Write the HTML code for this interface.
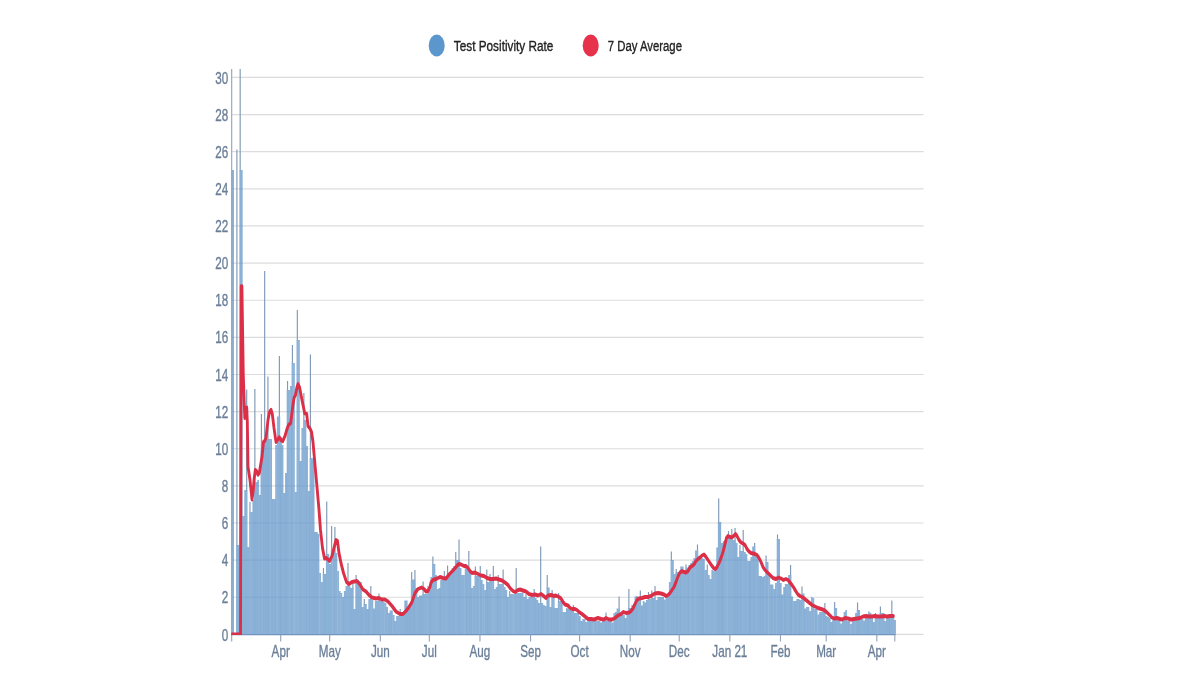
<!DOCTYPE html>
<html lang="en"><head><meta charset="utf-8"><title>Test Positivity Rate</title>
<style>
html,body{margin:0;padding:0;background:#fff;}
body{width:1200px;height:675px;overflow:hidden;font-family:"Liberation Sans",sans-serif;}
svg{display:block;}
text{font-family:"Liberation Sans",sans-serif;}
.ax{fill:#6b7f98;font-size:16px;stroke:#6b7f98;stroke-width:0.35px;}
.lg{fill:#222;font-size:15.4px;stroke:#222;stroke-width:0.35px;}
</style></head><body>
<svg width="1200" height="675" viewBox="0 0 1200 675">
<rect width="1200" height="675" fill="#ffffff"/>

<g stroke="#dbdcde" stroke-width="1.2">
<line x1="231.7" y1="634.40" x2="923.5" y2="634.40"/>
<line x1="231.7" y1="597.27" x2="923.5" y2="597.27"/>
<line x1="231.7" y1="560.14" x2="923.5" y2="560.14"/>
<line x1="231.7" y1="523.01" x2="923.5" y2="523.01"/>
<line x1="231.7" y1="485.88" x2="923.5" y2="485.88"/>
<line x1="231.7" y1="448.75" x2="923.5" y2="448.75"/>
<line x1="231.7" y1="411.62" x2="923.5" y2="411.62"/>
<line x1="231.7" y1="374.49" x2="923.5" y2="374.49"/>
<line x1="231.7" y1="337.36" x2="923.5" y2="337.36"/>
<line x1="231.7" y1="300.23" x2="923.5" y2="300.23"/>
<line x1="231.7" y1="263.10" x2="923.5" y2="263.10"/>
<line x1="231.7" y1="225.97" x2="923.5" y2="225.97"/>
<line x1="231.7" y1="188.84" x2="923.5" y2="188.84"/>
<line x1="231.7" y1="151.71" x2="923.5" y2="151.71"/>
<line x1="231.7" y1="114.58" x2="923.5" y2="114.58"/>
<line x1="231.7" y1="77.45" x2="923.5" y2="77.45"/>
</g>
<defs><clipPath id="bc"><path d="M231.40,634.4V170.0H232.82V170.0H234.00V634.4Z M236.08,634.4V545.0H237.72V545.0H239.35V170.0H240.98V170.0H242.62V516.0H244.25V490.0H245.88V490.0H247.52V547.0H249.15V512.0H250.78V512.0H252.42V500.0H254.05V482.0H255.68V482.0H257.32V480.0H258.95V495.0H260.58V450.0H262.22V450.0H263.85V440.0H265.48V440.0H267.11V439.0H268.75V439.0H270.38V439.0H272.01V499.0H273.65V499.0H275.28V445.0H276.91V416.5H278.55V416.5H280.18V437.0H281.81V445.0H283.45V493.0H285.08V473.0H286.71V390.0H288.35V390.0H289.98V386.0H291.61V363.0H293.25V363.0H294.88V492.0H296.51V340.0H298.15V340.0H299.78V461.0H301.41V428.0H303.05V420.0H304.68V420.0H306.31V446.0H307.95V491.0H309.58V458.0H311.21V458.0H312.85V460.0H314.48V532.0H316.11V532.0H317.75V534.0H319.38V573.0H321.01V582.0H322.65V574.0H324.28V574.0H325.91V554.0H327.55V554.0H329.18V564.0H330.81V550.0H332.44V550.0H334.08V550.0H335.71V553.0H337.34V571.0H338.98V591.0H340.61V593.0H342.24V597.0H343.88V591.0H345.51V586.0H347.14V586.0H348.78V586.0H350.41V588.0H352.04V588.0H353.68V609.0H355.31V580.0H356.94V580.0H358.58V581.0H360.21V582.0H361.84V607.0H363.48V604.0H365.11V604.0H366.74V609.0H368.38V599.0H370.01V599.0H371.64V600.0H373.28V608.5H374.91V601.0H376.54V601.0H378.18V600.0H379.81V600.0H381.44V601.0H383.08V602.0H384.71V603.0H386.34V607.0H387.98V613.0H389.61V610.5H391.24V610.5H392.88V615.0H394.51V621.0H396.14V616.0H397.77V616.0H399.41V614.0H401.04V614.0H402.67V614.0H404.31V600.5H405.94V600.5H407.57V607.0H409.21V606.0H410.84V579.5H412.47V579.5H414.11V579.5H415.74V588.0H417.37V597.0H419.01V595.5H420.64V595.5H422.27V594.0H423.91V594.0H425.54V594.0H427.17V590.0H428.81V590.0H430.44V577.0H432.07V564.0H433.71V564.0H435.34V575.0H436.97V589.0H438.61V588.0H440.24V580.0H441.87V580.0H443.51V580.0H445.14V580.0H446.77V574.0H448.41V574.0H450.04V572.0H451.67V568.0H453.31V566.0H454.94V560.0H456.57V560.0H458.21V560.0H459.84V568.0H461.47V575.0H463.10V575.0H464.74V568.0H466.37V568.0H468.00V568.0H469.64V570.0H471.27V588.0H472.90V586.0H474.54V576.0H476.17V576.0H477.80V576.0H479.44V576.0H481.07V580.0H482.70V584.0H484.34V590.0H485.97V582.0H487.60V582.0H489.24V580.0H490.87V580.0H492.50V580.0H494.14V589.0H495.77V587.0H497.40V584.0H499.04V584.0H500.67V584.0H502.30V584.0H503.94V587.0H505.57V590.0H507.20V597.0H508.84V594.0H510.47V594.0H512.10V594.0H513.74V594.0H515.37V593.0H517.00V593.0H518.64V593.0H520.27V593.0H521.90V592.5H523.54V597.0H525.17V597.0H526.80V599.0H528.43V597.0H530.07V597.0H531.70V597.0H533.33V597.0H534.97V598.0H536.60V600.0H538.23V603.0H539.87V603.0H541.50V603.0H543.13V605.0H544.77V606.0H546.40V587.5H548.03V587.5H549.67V607.0H551.30V598.0H552.93V598.0H554.57V608.0H556.20V608.0H557.83V601.0H559.47V601.0H561.10V601.0H562.73V612.0H564.37V612.0H566.00V608.0H567.63V609.0H569.27V610.0H570.90V611.0H572.53V611.0H574.17V613.0H575.80V613.0H577.43V613.0H579.07V616.0H580.70V621.0H582.33V619.0H583.97V619.0H585.60V622.0H587.23V621.0H588.87V621.0H590.50V621.0H592.13V621.0H593.76V621.0H595.40V621.0H597.03V621.0H598.66V621.0H600.30V622.5H601.93V621.0H603.56V621.0H605.20V621.0H606.83V621.0H608.46V621.0H610.10V621.0H611.73V622.5H613.36V613.0H615.00V612.0H616.63V608.5H618.26V608.5H619.90V615.0H621.53V615.0H623.16V615.0H624.80V618.0H626.43V614.0H628.06V608.0H629.70V608.0H631.33V605.0H632.96V604.0H634.60V596.5H636.23V596.0H637.86V598.0H639.50V598.0H641.13V605.5H642.76V601.0H644.40V602.5H646.03V600.0H647.66V599.0H649.30V599.0H650.93V598.0H652.56V598.0H654.20V598.0H655.83V600.0H657.46V597.0H659.09V597.0H660.73V597.0H662.36V597.0H663.99V599.5H665.63V597.0H667.26V596.0H668.89V582.0H670.53V560.0H672.16V560.0H673.79V574.0H675.43V572.0H677.06V572.0H678.69V572.0H680.33V566.5H681.96V566.5H683.59V570.0H685.23V567.5H686.86V567.5H688.49V565.0H690.13V563.0H691.76V561.0H693.39V558.0H695.03V550.5H696.66V550.5H698.29V556.0H699.93V557.0H701.56V558.0H703.19V559.0H704.83V570.0H706.46V570.0H708.09V575.0H709.73V579.0H711.36V570.0H712.99V571.0H714.63V571.0H716.26V547.5H717.89V522.0H719.53V522.0H721.16V543.0H722.79V541.0H724.42V540.0H726.06V540.0H727.69V538.0H729.32V538.0H730.96V538.0H732.59V540.0H734.22V540.0H735.86V543.0H737.49V557.0H739.12V551.0H740.76V551.0H742.39V551.0H744.02V552.0H745.66V554.0H747.29V561.0H748.92V561.0H750.56V557.0H752.19V546.5H753.82V546.5H755.46V556.0H757.09V558.0H758.72V576.0H760.36V576.0H761.99V577.0H763.62V576.0H765.26V562.0H766.89V562.0H768.52V575.0H770.16V584.5H771.79V584.5H773.42V589.0H775.06V583.0H776.69V539.0H778.32V539.0H779.96V583.0H781.59V594.5H783.22V587.0H784.86V584.0H786.49V584.0H788.12V575.0H789.75V575.0H791.39V596.5H793.02V601.0H794.65V601.0H796.29V599.0H797.92V599.0H799.55V600.0H801.19V593.5H802.82V593.5H804.45V608.5H806.09V607.0H807.72V607.0H809.35V611.0H810.99V597.0H812.62V598.0H814.25V609.0H815.89V609.0H817.52V614.5H819.15V612.0H820.79V612.0H822.42V612.0H824.05V612.0H825.69V616.0H827.32V617.0H828.95V618.0H830.59V622.0H832.22V620.0H833.85V608.0H835.49V608.0H837.12V620.0H838.75V620.0H840.39V623.5H842.02V620.0H843.65V612.0H845.29V610.0H846.92V621.0H848.55V621.0H850.19V624.0H851.82V621.0H853.45V621.0H855.08V613.0H856.72V610.0H858.35V610.0H859.98V619.0H861.62V619.0H863.25V620.5H864.88V618.0H866.52V618.0H868.15V611.5H869.78V613.0H871.42V618.0H873.05V622.0H874.68V618.0H876.32V618.0H877.95V618.0H879.58V613.0H881.22V613.0H882.85V613.0H884.48V621.0H886.12V618.0H887.75V618.0H889.38V618.0H891.02V615.0H892.65V615.0H894.28V620.0H895.92V634.4Z"/></clipPath></defs>
<path fill="#8cb2d7" d="M231.40,634.4V170.0H232.82V170.0H234.00V634.4Z M236.08,634.4V545.0H237.72V545.0H239.35V170.0H240.98V170.0H242.62V516.0H244.25V490.0H245.88V490.0H247.52V547.0H249.15V512.0H250.78V512.0H252.42V500.0H254.05V482.0H255.68V482.0H257.32V480.0H258.95V495.0H260.58V450.0H262.22V450.0H263.85V440.0H265.48V440.0H267.11V439.0H268.75V439.0H270.38V439.0H272.01V499.0H273.65V499.0H275.28V445.0H276.91V416.5H278.55V416.5H280.18V437.0H281.81V445.0H283.45V493.0H285.08V473.0H286.71V390.0H288.35V390.0H289.98V386.0H291.61V363.0H293.25V363.0H294.88V492.0H296.51V340.0H298.15V340.0H299.78V461.0H301.41V428.0H303.05V420.0H304.68V420.0H306.31V446.0H307.95V491.0H309.58V458.0H311.21V458.0H312.85V460.0H314.48V532.0H316.11V532.0H317.75V534.0H319.38V573.0H321.01V582.0H322.65V574.0H324.28V574.0H325.91V554.0H327.55V554.0H329.18V564.0H330.81V550.0H332.44V550.0H334.08V550.0H335.71V553.0H337.34V571.0H338.98V591.0H340.61V593.0H342.24V597.0H343.88V591.0H345.51V586.0H347.14V586.0H348.78V586.0H350.41V588.0H352.04V588.0H353.68V609.0H355.31V580.0H356.94V580.0H358.58V581.0H360.21V582.0H361.84V607.0H363.48V604.0H365.11V604.0H366.74V609.0H368.38V599.0H370.01V599.0H371.64V600.0H373.28V608.5H374.91V601.0H376.54V601.0H378.18V600.0H379.81V600.0H381.44V601.0H383.08V602.0H384.71V603.0H386.34V607.0H387.98V613.0H389.61V610.5H391.24V610.5H392.88V615.0H394.51V621.0H396.14V616.0H397.77V616.0H399.41V614.0H401.04V614.0H402.67V614.0H404.31V600.5H405.94V600.5H407.57V607.0H409.21V606.0H410.84V579.5H412.47V579.5H414.11V579.5H415.74V588.0H417.37V597.0H419.01V595.5H420.64V595.5H422.27V594.0H423.91V594.0H425.54V594.0H427.17V590.0H428.81V590.0H430.44V577.0H432.07V564.0H433.71V564.0H435.34V575.0H436.97V589.0H438.61V588.0H440.24V580.0H441.87V580.0H443.51V580.0H445.14V580.0H446.77V574.0H448.41V574.0H450.04V572.0H451.67V568.0H453.31V566.0H454.94V560.0H456.57V560.0H458.21V560.0H459.84V568.0H461.47V575.0H463.10V575.0H464.74V568.0H466.37V568.0H468.00V568.0H469.64V570.0H471.27V588.0H472.90V586.0H474.54V576.0H476.17V576.0H477.80V576.0H479.44V576.0H481.07V580.0H482.70V584.0H484.34V590.0H485.97V582.0H487.60V582.0H489.24V580.0H490.87V580.0H492.50V580.0H494.14V589.0H495.77V587.0H497.40V584.0H499.04V584.0H500.67V584.0H502.30V584.0H503.94V587.0H505.57V590.0H507.20V597.0H508.84V594.0H510.47V594.0H512.10V594.0H513.74V594.0H515.37V593.0H517.00V593.0H518.64V593.0H520.27V593.0H521.90V592.5H523.54V597.0H525.17V597.0H526.80V599.0H528.43V597.0H530.07V597.0H531.70V597.0H533.33V597.0H534.97V598.0H536.60V600.0H538.23V603.0H539.87V603.0H541.50V603.0H543.13V605.0H544.77V606.0H546.40V587.5H548.03V587.5H549.67V607.0H551.30V598.0H552.93V598.0H554.57V608.0H556.20V608.0H557.83V601.0H559.47V601.0H561.10V601.0H562.73V612.0H564.37V612.0H566.00V608.0H567.63V609.0H569.27V610.0H570.90V611.0H572.53V611.0H574.17V613.0H575.80V613.0H577.43V613.0H579.07V616.0H580.70V621.0H582.33V619.0H583.97V619.0H585.60V622.0H587.23V621.0H588.87V621.0H590.50V621.0H592.13V621.0H593.76V621.0H595.40V621.0H597.03V621.0H598.66V621.0H600.30V622.5H601.93V621.0H603.56V621.0H605.20V621.0H606.83V621.0H608.46V621.0H610.10V621.0H611.73V622.5H613.36V613.0H615.00V612.0H616.63V608.5H618.26V608.5H619.90V615.0H621.53V615.0H623.16V615.0H624.80V618.0H626.43V614.0H628.06V608.0H629.70V608.0H631.33V605.0H632.96V604.0H634.60V596.5H636.23V596.0H637.86V598.0H639.50V598.0H641.13V605.5H642.76V601.0H644.40V602.5H646.03V600.0H647.66V599.0H649.30V599.0H650.93V598.0H652.56V598.0H654.20V598.0H655.83V600.0H657.46V597.0H659.09V597.0H660.73V597.0H662.36V597.0H663.99V599.5H665.63V597.0H667.26V596.0H668.89V582.0H670.53V560.0H672.16V560.0H673.79V574.0H675.43V572.0H677.06V572.0H678.69V572.0H680.33V566.5H681.96V566.5H683.59V570.0H685.23V567.5H686.86V567.5H688.49V565.0H690.13V563.0H691.76V561.0H693.39V558.0H695.03V550.5H696.66V550.5H698.29V556.0H699.93V557.0H701.56V558.0H703.19V559.0H704.83V570.0H706.46V570.0H708.09V575.0H709.73V579.0H711.36V570.0H712.99V571.0H714.63V571.0H716.26V547.5H717.89V522.0H719.53V522.0H721.16V543.0H722.79V541.0H724.42V540.0H726.06V540.0H727.69V538.0H729.32V538.0H730.96V538.0H732.59V540.0H734.22V540.0H735.86V543.0H737.49V557.0H739.12V551.0H740.76V551.0H742.39V551.0H744.02V552.0H745.66V554.0H747.29V561.0H748.92V561.0H750.56V557.0H752.19V546.5H753.82V546.5H755.46V556.0H757.09V558.0H758.72V576.0H760.36V576.0H761.99V577.0H763.62V576.0H765.26V562.0H766.89V562.0H768.52V575.0H770.16V584.5H771.79V584.5H773.42V589.0H775.06V583.0H776.69V539.0H778.32V539.0H779.96V583.0H781.59V594.5H783.22V587.0H784.86V584.0H786.49V584.0H788.12V575.0H789.75V575.0H791.39V596.5H793.02V601.0H794.65V601.0H796.29V599.0H797.92V599.0H799.55V600.0H801.19V593.5H802.82V593.5H804.45V608.5H806.09V607.0H807.72V607.0H809.35V611.0H810.99V597.0H812.62V598.0H814.25V609.0H815.89V609.0H817.52V614.5H819.15V612.0H820.79V612.0H822.42V612.0H824.05V612.0H825.69V616.0H827.32V617.0H828.95V618.0H830.59V622.0H832.22V620.0H833.85V608.0H835.49V608.0H837.12V620.0H838.75V620.0H840.39V623.5H842.02V620.0H843.65V612.0H845.29V610.0H846.92V621.0H848.55V621.0H850.19V624.0H851.82V621.0H853.45V621.0H855.08V613.0H856.72V610.0H858.35V610.0H859.98V619.0H861.62V619.0H863.25V620.5H864.88V618.0H866.52V618.0H868.15V611.5H869.78V613.0H871.42V618.0H873.05V622.0H874.68V618.0H876.32V618.0H877.95V618.0H879.58V613.0H881.22V613.0H882.85V613.0H884.48V621.0H886.12V618.0H887.75V618.0H889.38V618.0H891.02V615.0H892.65V615.0H894.28V620.0H895.92V634.4Z"/>
<g clip-path="url(#bc)"><rect x="232.42" y="60" width="0.80" height="575" fill="#5f8fc4" opacity="0.07"/><rect x="235.68" y="60" width="0.80" height="575" fill="#5f8fc4" opacity="0.11"/><rect x="237.32" y="60" width="0.80" height="575" fill="#5f8fc4" opacity="0.06"/><rect x="238.95" y="60" width="0.80" height="575" fill="#ffffff" opacity="0.04"/><rect x="240.58" y="60" width="0.80" height="575" fill="#5f8fc4" opacity="0.06"/><rect x="242.22" y="60" width="0.80" height="575" fill="#5f8fc4" opacity="0.10"/><rect x="245.48" y="60" width="0.80" height="575" fill="#5f8fc4" opacity="0.08"/><rect x="250.38" y="60" width="0.80" height="575" fill="#ffffff" opacity="0.07"/><rect x="253.65" y="60" width="0.80" height="575" fill="#5f8fc4" opacity="0.15"/><rect x="255.28" y="60" width="0.80" height="575" fill="#5f8fc4" opacity="0.07"/><rect x="256.92" y="60" width="0.80" height="575" fill="#5f8fc4" opacity="0.09"/><rect x="260.18" y="60" width="0.80" height="575" fill="#5f8fc4" opacity="0.12"/><rect x="263.45" y="60" width="0.80" height="575" fill="#5f8fc4" opacity="0.12"/><rect x="265.08" y="60" width="0.80" height="575" fill="#5f8fc4" opacity="0.06"/><rect x="266.71" y="60" width="0.80" height="575" fill="#5f8fc4" opacity="0.13"/><rect x="268.35" y="60" width="0.80" height="575" fill="#5f8fc4" opacity="0.09"/><rect x="269.98" y="60" width="0.80" height="575" fill="#ffffff" opacity="0.08"/><rect x="271.61" y="60" width="0.80" height="575" fill="#5f8fc4" opacity="0.15"/><rect x="274.88" y="60" width="0.80" height="575" fill="#5f8fc4" opacity="0.12"/><rect x="276.51" y="60" width="0.80" height="575" fill="#ffffff" opacity="0.11"/><rect x="279.78" y="60" width="0.80" height="575" fill="#5f8fc4" opacity="0.17"/><rect x="281.41" y="60" width="0.80" height="575" fill="#5f8fc4" opacity="0.10"/><rect x="284.68" y="60" width="0.80" height="575" fill="#5f8fc4" opacity="0.11"/><rect x="286.31" y="60" width="0.80" height="575" fill="#5f8fc4" opacity="0.13"/><rect x="289.58" y="60" width="0.80" height="575" fill="#ffffff" opacity="0.11"/><rect x="291.21" y="60" width="0.80" height="575" fill="#5f8fc4" opacity="0.13"/><rect x="292.85" y="60" width="0.80" height="575" fill="#ffffff" opacity="0.09"/><rect x="294.48" y="60" width="0.80" height="575" fill="#ffffff" opacity="0.11"/><rect x="297.75" y="60" width="0.80" height="575" fill="#ffffff" opacity="0.09"/><rect x="299.38" y="60" width="0.80" height="575" fill="#5f8fc4" opacity="0.13"/><rect x="305.91" y="60" width="0.80" height="575" fill="#5f8fc4" opacity="0.10"/><rect x="309.18" y="60" width="0.80" height="575" fill="#5f8fc4" opacity="0.11"/><rect x="310.81" y="60" width="0.80" height="575" fill="#5f8fc4" opacity="0.06"/><rect x="312.45" y="60" width="0.80" height="575" fill="#5f8fc4" opacity="0.14"/><rect x="314.08" y="60" width="0.80" height="575" fill="#5f8fc4" opacity="0.08"/><rect x="315.71" y="60" width="0.80" height="575" fill="#5f8fc4" opacity="0.15"/><rect x="317.35" y="60" width="0.80" height="575" fill="#5f8fc4" opacity="0.10"/><rect x="318.98" y="60" width="0.80" height="575" fill="#ffffff" opacity="0.11"/><rect x="323.88" y="60" width="0.80" height="575" fill="#5f8fc4" opacity="0.10"/><rect x="325.51" y="60" width="0.80" height="575" fill="#5f8fc4" opacity="0.16"/><rect x="328.78" y="60" width="0.80" height="575" fill="#5f8fc4" opacity="0.07"/><rect x="330.41" y="60" width="0.80" height="575" fill="#5f8fc4" opacity="0.08"/><rect x="332.04" y="60" width="0.80" height="575" fill="#ffffff" opacity="0.09"/><rect x="333.68" y="60" width="0.80" height="575" fill="#5f8fc4" opacity="0.05"/><rect x="335.31" y="60" width="0.80" height="575" fill="#5f8fc4" opacity="0.09"/><rect x="336.94" y="60" width="0.80" height="575" fill="#ffffff" opacity="0.12"/><rect x="340.21" y="60" width="0.80" height="575" fill="#ffffff" opacity="0.09"/><rect x="343.48" y="60" width="0.80" height="575" fill="#5f8fc4" opacity="0.16"/><rect x="350.01" y="60" width="0.80" height="575" fill="#5f8fc4" opacity="0.10"/><rect x="351.64" y="60" width="0.80" height="575" fill="#5f8fc4" opacity="0.13"/><rect x="353.28" y="60" width="0.80" height="575" fill="#5f8fc4" opacity="0.06"/><rect x="354.91" y="60" width="0.80" height="575" fill="#5f8fc4" opacity="0.07"/><rect x="356.54" y="60" width="0.80" height="575" fill="#5f8fc4" opacity="0.06"/><rect x="358.18" y="60" width="0.80" height="575" fill="#5f8fc4" opacity="0.07"/><rect x="359.81" y="60" width="0.80" height="575" fill="#5f8fc4" opacity="0.09"/><rect x="361.44" y="60" width="0.80" height="575" fill="#5f8fc4" opacity="0.15"/><rect x="364.71" y="60" width="0.80" height="575" fill="#5f8fc4" opacity="0.08"/><rect x="366.34" y="60" width="0.80" height="575" fill="#5f8fc4" opacity="0.09"/><rect x="367.98" y="60" width="0.80" height="575" fill="#5f8fc4" opacity="0.15"/><rect x="371.24" y="60" width="0.80" height="575" fill="#ffffff" opacity="0.08"/><rect x="372.88" y="60" width="0.80" height="575" fill="#5f8fc4" opacity="0.06"/><rect x="374.51" y="60" width="0.80" height="575" fill="#5f8fc4" opacity="0.08"/><rect x="377.78" y="60" width="0.80" height="575" fill="#5f8fc4" opacity="0.05"/><rect x="381.04" y="60" width="0.80" height="575" fill="#ffffff" opacity="0.05"/><rect x="382.68" y="60" width="0.80" height="575" fill="#ffffff" opacity="0.04"/><rect x="384.31" y="60" width="0.80" height="575" fill="#ffffff" opacity="0.12"/><rect x="389.21" y="60" width="0.80" height="575" fill="#5f8fc4" opacity="0.09"/><rect x="390.84" y="60" width="0.80" height="575" fill="#5f8fc4" opacity="0.14"/><rect x="392.48" y="60" width="0.80" height="575" fill="#ffffff" opacity="0.10"/><rect x="394.11" y="60" width="0.80" height="575" fill="#5f8fc4" opacity="0.08"/><rect x="405.54" y="60" width="0.80" height="575" fill="#5f8fc4" opacity="0.11"/><rect x="407.17" y="60" width="0.80" height="575" fill="#5f8fc4" opacity="0.05"/><rect x="408.81" y="60" width="0.80" height="575" fill="#5f8fc4" opacity="0.08"/><rect x="410.44" y="60" width="0.80" height="575" fill="#5f8fc4" opacity="0.13"/><rect x="413.71" y="60" width="0.80" height="575" fill="#5f8fc4" opacity="0.16"/><rect x="418.61" y="60" width="0.80" height="575" fill="#5f8fc4" opacity="0.08"/><rect x="420.24" y="60" width="0.80" height="575" fill="#5f8fc4" opacity="0.07"/><rect x="421.87" y="60" width="0.80" height="575" fill="#5f8fc4" opacity="0.12"/><rect x="426.77" y="60" width="0.80" height="575" fill="#ffffff" opacity="0.09"/><rect x="430.04" y="60" width="0.80" height="575" fill="#5f8fc4" opacity="0.13"/><rect x="436.57" y="60" width="0.80" height="575" fill="#ffffff" opacity="0.05"/><rect x="439.84" y="60" width="0.80" height="575" fill="#5f8fc4" opacity="0.15"/><rect x="443.11" y="60" width="0.80" height="575" fill="#5f8fc4" opacity="0.10"/><rect x="448.01" y="60" width="0.80" height="575" fill="#5f8fc4" opacity="0.07"/><rect x="449.64" y="60" width="0.80" height="575" fill="#5f8fc4" opacity="0.16"/><rect x="452.91" y="60" width="0.80" height="575" fill="#5f8fc4" opacity="0.15"/><rect x="457.81" y="60" width="0.80" height="575" fill="#5f8fc4" opacity="0.12"/><rect x="459.44" y="60" width="0.80" height="575" fill="#5f8fc4" opacity="0.05"/><rect x="464.34" y="60" width="0.80" height="575" fill="#ffffff" opacity="0.11"/><rect x="465.97" y="60" width="0.80" height="575" fill="#5f8fc4" opacity="0.15"/><rect x="469.24" y="60" width="0.80" height="575" fill="#5f8fc4" opacity="0.08"/><rect x="470.87" y="60" width="0.80" height="575" fill="#5f8fc4" opacity="0.08"/><rect x="472.50" y="60" width="0.80" height="575" fill="#ffffff" opacity="0.06"/><rect x="474.14" y="60" width="0.80" height="575" fill="#5f8fc4" opacity="0.07"/><rect x="477.40" y="60" width="0.80" height="575" fill="#5f8fc4" opacity="0.10"/><rect x="479.04" y="60" width="0.80" height="575" fill="#ffffff" opacity="0.11"/><rect x="480.67" y="60" width="0.80" height="575" fill="#5f8fc4" opacity="0.16"/><rect x="482.30" y="60" width="0.80" height="575" fill="#ffffff" opacity="0.08"/><rect x="483.94" y="60" width="0.80" height="575" fill="#ffffff" opacity="0.04"/><rect x="485.57" y="60" width="0.80" height="575" fill="#5f8fc4" opacity="0.07"/><rect x="487.20" y="60" width="0.80" height="575" fill="#5f8fc4" opacity="0.15"/><rect x="488.84" y="60" width="0.80" height="575" fill="#5f8fc4" opacity="0.11"/><rect x="492.10" y="60" width="0.80" height="575" fill="#ffffff" opacity="0.07"/><rect x="493.74" y="60" width="0.80" height="575" fill="#ffffff" opacity="0.08"/><rect x="497.00" y="60" width="0.80" height="575" fill="#5f8fc4" opacity="0.12"/><rect x="498.64" y="60" width="0.80" height="575" fill="#5f8fc4" opacity="0.08"/><rect x="501.90" y="60" width="0.80" height="575" fill="#ffffff" opacity="0.08"/><rect x="506.80" y="60" width="0.80" height="575" fill="#5f8fc4" opacity="0.12"/><rect x="508.44" y="60" width="0.80" height="575" fill="#ffffff" opacity="0.08"/><rect x="511.70" y="60" width="0.80" height="575" fill="#ffffff" opacity="0.08"/><rect x="513.34" y="60" width="0.80" height="575" fill="#ffffff" opacity="0.12"/><rect x="519.87" y="60" width="0.80" height="575" fill="#5f8fc4" opacity="0.12"/><rect x="524.77" y="60" width="0.80" height="575" fill="#5f8fc4" opacity="0.06"/><rect x="526.40" y="60" width="0.80" height="575" fill="#5f8fc4" opacity="0.06"/><rect x="528.03" y="60" width="0.80" height="575" fill="#5f8fc4" opacity="0.06"/><rect x="534.57" y="60" width="0.80" height="575" fill="#5f8fc4" opacity="0.14"/><rect x="537.83" y="60" width="0.80" height="575" fill="#5f8fc4" opacity="0.16"/><rect x="541.10" y="60" width="0.80" height="575" fill="#5f8fc4" opacity="0.16"/><rect x="542.73" y="60" width="0.80" height="575" fill="#5f8fc4" opacity="0.11"/><rect x="547.63" y="60" width="0.80" height="575" fill="#5f8fc4" opacity="0.10"/><rect x="549.27" y="60" width="0.80" height="575" fill="#ffffff" opacity="0.07"/><rect x="550.90" y="60" width="0.80" height="575" fill="#5f8fc4" opacity="0.09"/><rect x="554.17" y="60" width="0.80" height="575" fill="#5f8fc4" opacity="0.12"/><rect x="555.80" y="60" width="0.80" height="575" fill="#5f8fc4" opacity="0.05"/><rect x="557.43" y="60" width="0.80" height="575" fill="#5f8fc4" opacity="0.12"/><rect x="559.07" y="60" width="0.80" height="575" fill="#ffffff" opacity="0.05"/><rect x="565.60" y="60" width="0.80" height="575" fill="#5f8fc4" opacity="0.08"/><rect x="567.23" y="60" width="0.80" height="575" fill="#5f8fc4" opacity="0.14"/><rect x="568.87" y="60" width="0.80" height="575" fill="#5f8fc4" opacity="0.07"/><rect x="570.50" y="60" width="0.80" height="575" fill="#5f8fc4" opacity="0.16"/><rect x="573.77" y="60" width="0.80" height="575" fill="#5f8fc4" opacity="0.07"/><rect x="577.03" y="60" width="0.80" height="575" fill="#ffffff" opacity="0.10"/><rect x="578.67" y="60" width="0.80" height="575" fill="#5f8fc4" opacity="0.06"/><rect x="581.93" y="60" width="0.80" height="575" fill="#5f8fc4" opacity="0.06"/><rect x="588.47" y="60" width="0.80" height="575" fill="#5f8fc4" opacity="0.15"/><rect x="590.10" y="60" width="0.80" height="575" fill="#5f8fc4" opacity="0.15"/><rect x="591.73" y="60" width="0.80" height="575" fill="#ffffff" opacity="0.07"/><rect x="593.36" y="60" width="0.80" height="575" fill="#ffffff" opacity="0.11"/><rect x="595.00" y="60" width="0.80" height="575" fill="#5f8fc4" opacity="0.07"/><rect x="596.63" y="60" width="0.80" height="575" fill="#ffffff" opacity="0.06"/><rect x="598.26" y="60" width="0.80" height="575" fill="#5f8fc4" opacity="0.07"/><rect x="599.90" y="60" width="0.80" height="575" fill="#5f8fc4" opacity="0.07"/><rect x="601.53" y="60" width="0.80" height="575" fill="#5f8fc4" opacity="0.09"/><rect x="604.80" y="60" width="0.80" height="575" fill="#5f8fc4" opacity="0.11"/><rect x="606.43" y="60" width="0.80" height="575" fill="#5f8fc4" opacity="0.09"/><rect x="608.06" y="60" width="0.80" height="575" fill="#5f8fc4" opacity="0.08"/><rect x="609.70" y="60" width="0.80" height="575" fill="#5f8fc4" opacity="0.14"/><rect x="611.33" y="60" width="0.80" height="575" fill="#ffffff" opacity="0.06"/><rect x="612.96" y="60" width="0.80" height="575" fill="#ffffff" opacity="0.11"/><rect x="614.60" y="60" width="0.80" height="575" fill="#5f8fc4" opacity="0.15"/><rect x="616.23" y="60" width="0.80" height="575" fill="#5f8fc4" opacity="0.11"/><rect x="619.50" y="60" width="0.80" height="575" fill="#5f8fc4" opacity="0.11"/><rect x="624.40" y="60" width="0.80" height="575" fill="#5f8fc4" opacity="0.15"/><rect x="629.30" y="60" width="0.80" height="575" fill="#5f8fc4" opacity="0.09"/><rect x="630.93" y="60" width="0.80" height="575" fill="#5f8fc4" opacity="0.07"/><rect x="632.56" y="60" width="0.80" height="575" fill="#5f8fc4" opacity="0.14"/><rect x="634.20" y="60" width="0.80" height="575" fill="#5f8fc4" opacity="0.07"/><rect x="635.83" y="60" width="0.80" height="575" fill="#5f8fc4" opacity="0.15"/><rect x="640.73" y="60" width="0.80" height="575" fill="#5f8fc4" opacity="0.08"/><rect x="642.36" y="60" width="0.80" height="575" fill="#5f8fc4" opacity="0.11"/><rect x="644.00" y="60" width="0.80" height="575" fill="#5f8fc4" opacity="0.10"/><rect x="645.63" y="60" width="0.80" height="575" fill="#5f8fc4" opacity="0.17"/><rect x="648.90" y="60" width="0.80" height="575" fill="#ffffff" opacity="0.06"/><rect x="652.16" y="60" width="0.80" height="575" fill="#5f8fc4" opacity="0.09"/><rect x="653.80" y="60" width="0.80" height="575" fill="#5f8fc4" opacity="0.10"/><rect x="655.43" y="60" width="0.80" height="575" fill="#ffffff" opacity="0.08"/><rect x="657.06" y="60" width="0.80" height="575" fill="#5f8fc4" opacity="0.11"/><rect x="658.69" y="60" width="0.80" height="575" fill="#5f8fc4" opacity="0.08"/><rect x="660.33" y="60" width="0.80" height="575" fill="#5f8fc4" opacity="0.10"/><rect x="661.96" y="60" width="0.80" height="575" fill="#5f8fc4" opacity="0.05"/><rect x="663.59" y="60" width="0.80" height="575" fill="#5f8fc4" opacity="0.08"/><rect x="665.23" y="60" width="0.80" height="575" fill="#ffffff" opacity="0.08"/><rect x="673.39" y="60" width="0.80" height="575" fill="#5f8fc4" opacity="0.09"/><rect x="676.66" y="60" width="0.80" height="575" fill="#5f8fc4" opacity="0.14"/><rect x="679.93" y="60" width="0.80" height="575" fill="#5f8fc4" opacity="0.15"/><rect x="688.09" y="60" width="0.80" height="575" fill="#5f8fc4" opacity="0.11"/><rect x="689.73" y="60" width="0.80" height="575" fill="#ffffff" opacity="0.11"/><rect x="694.63" y="60" width="0.80" height="575" fill="#ffffff" opacity="0.11"/><rect x="699.53" y="60" width="0.80" height="575" fill="#5f8fc4" opacity="0.05"/><rect x="701.16" y="60" width="0.80" height="575" fill="#5f8fc4" opacity="0.09"/><rect x="702.79" y="60" width="0.80" height="575" fill="#5f8fc4" opacity="0.15"/><rect x="704.43" y="60" width="0.80" height="575" fill="#ffffff" opacity="0.09"/><rect x="709.33" y="60" width="0.80" height="575" fill="#ffffff" opacity="0.04"/><rect x="714.23" y="60" width="0.80" height="575" fill="#ffffff" opacity="0.08"/><rect x="717.49" y="60" width="0.80" height="575" fill="#5f8fc4" opacity="0.14"/><rect x="719.13" y="60" width="0.80" height="575" fill="#5f8fc4" opacity="0.06"/><rect x="720.76" y="60" width="0.80" height="575" fill="#5f8fc4" opacity="0.14"/><rect x="722.39" y="60" width="0.80" height="575" fill="#5f8fc4" opacity="0.14"/><rect x="725.66" y="60" width="0.80" height="575" fill="#ffffff" opacity="0.07"/><rect x="727.29" y="60" width="0.80" height="575" fill="#ffffff" opacity="0.09"/><rect x="733.82" y="60" width="0.80" height="575" fill="#5f8fc4" opacity="0.07"/><rect x="735.46" y="60" width="0.80" height="575" fill="#5f8fc4" opacity="0.14"/><rect x="737.09" y="60" width="0.80" height="575" fill="#5f8fc4" opacity="0.12"/><rect x="738.72" y="60" width="0.80" height="575" fill="#5f8fc4" opacity="0.06"/><rect x="740.36" y="60" width="0.80" height="575" fill="#5f8fc4" opacity="0.13"/><rect x="745.26" y="60" width="0.80" height="575" fill="#5f8fc4" opacity="0.11"/><rect x="746.89" y="60" width="0.80" height="575" fill="#ffffff" opacity="0.08"/><rect x="748.52" y="60" width="0.80" height="575" fill="#5f8fc4" opacity="0.16"/><rect x="750.16" y="60" width="0.80" height="575" fill="#5f8fc4" opacity="0.17"/><rect x="753.42" y="60" width="0.80" height="575" fill="#5f8fc4" opacity="0.11"/><rect x="758.32" y="60" width="0.80" height="575" fill="#5f8fc4" opacity="0.08"/><rect x="759.96" y="60" width="0.80" height="575" fill="#5f8fc4" opacity="0.16"/><rect x="761.59" y="60" width="0.80" height="575" fill="#5f8fc4" opacity="0.12"/><rect x="763.22" y="60" width="0.80" height="575" fill="#5f8fc4" opacity="0.11"/><rect x="766.49" y="60" width="0.80" height="575" fill="#5f8fc4" opacity="0.15"/><rect x="768.12" y="60" width="0.80" height="575" fill="#ffffff" opacity="0.11"/><rect x="771.39" y="60" width="0.80" height="575" fill="#5f8fc4" opacity="0.16"/><rect x="773.02" y="60" width="0.80" height="575" fill="#ffffff" opacity="0.04"/><rect x="774.66" y="60" width="0.80" height="575" fill="#5f8fc4" opacity="0.11"/><rect x="776.29" y="60" width="0.80" height="575" fill="#ffffff" opacity="0.06"/><rect x="777.92" y="60" width="0.80" height="575" fill="#5f8fc4" opacity="0.09"/><rect x="779.56" y="60" width="0.80" height="575" fill="#5f8fc4" opacity="0.15"/><rect x="781.19" y="60" width="0.80" height="575" fill="#5f8fc4" opacity="0.14"/><rect x="784.46" y="60" width="0.80" height="575" fill="#5f8fc4" opacity="0.16"/><rect x="789.35" y="60" width="0.80" height="575" fill="#5f8fc4" opacity="0.09"/><rect x="790.99" y="60" width="0.80" height="575" fill="#5f8fc4" opacity="0.17"/><rect x="792.62" y="60" width="0.80" height="575" fill="#ffffff" opacity="0.07"/><rect x="794.25" y="60" width="0.80" height="575" fill="#5f8fc4" opacity="0.08"/><rect x="795.89" y="60" width="0.80" height="575" fill="#5f8fc4" opacity="0.06"/><rect x="799.15" y="60" width="0.80" height="575" fill="#5f8fc4" opacity="0.16"/><rect x="800.79" y="60" width="0.80" height="575" fill="#5f8fc4" opacity="0.08"/><rect x="802.42" y="60" width="0.80" height="575" fill="#ffffff" opacity="0.06"/><rect x="804.05" y="60" width="0.80" height="575" fill="#5f8fc4" opacity="0.16"/><rect x="813.85" y="60" width="0.80" height="575" fill="#ffffff" opacity="0.10"/><rect x="815.49" y="60" width="0.80" height="575" fill="#5f8fc4" opacity="0.14"/><rect x="817.12" y="60" width="0.80" height="575" fill="#ffffff" opacity="0.10"/><rect x="820.39" y="60" width="0.80" height="575" fill="#5f8fc4" opacity="0.06"/><rect x="823.65" y="60" width="0.80" height="575" fill="#5f8fc4" opacity="0.11"/><rect x="825.29" y="60" width="0.80" height="575" fill="#5f8fc4" opacity="0.09"/><rect x="830.19" y="60" width="0.80" height="575" fill="#5f8fc4" opacity="0.13"/><rect x="831.82" y="60" width="0.80" height="575" fill="#5f8fc4" opacity="0.12"/><rect x="833.45" y="60" width="0.80" height="575" fill="#5f8fc4" opacity="0.07"/><rect x="835.09" y="60" width="0.80" height="575" fill="#5f8fc4" opacity="0.07"/><rect x="838.35" y="60" width="0.80" height="575" fill="#ffffff" opacity="0.06"/><rect x="843.25" y="60" width="0.80" height="575" fill="#5f8fc4" opacity="0.07"/><rect x="844.89" y="60" width="0.80" height="575" fill="#5f8fc4" opacity="0.06"/><rect x="846.52" y="60" width="0.80" height="575" fill="#5f8fc4" opacity="0.06"/><rect x="848.15" y="60" width="0.80" height="575" fill="#5f8fc4" opacity="0.08"/><rect x="849.79" y="60" width="0.80" height="575" fill="#ffffff" opacity="0.11"/><rect x="853.05" y="60" width="0.80" height="575" fill="#5f8fc4" opacity="0.10"/><rect x="854.68" y="60" width="0.80" height="575" fill="#ffffff" opacity="0.07"/><rect x="856.32" y="60" width="0.80" height="575" fill="#5f8fc4" opacity="0.06"/><rect x="857.95" y="60" width="0.80" height="575" fill="#5f8fc4" opacity="0.17"/><rect x="859.58" y="60" width="0.80" height="575" fill="#5f8fc4" opacity="0.11"/><rect x="864.48" y="60" width="0.80" height="575" fill="#5f8fc4" opacity="0.08"/><rect x="866.12" y="60" width="0.80" height="575" fill="#5f8fc4" opacity="0.10"/><rect x="867.75" y="60" width="0.80" height="575" fill="#5f8fc4" opacity="0.16"/><rect x="872.65" y="60" width="0.80" height="575" fill="#5f8fc4" opacity="0.05"/><rect x="877.55" y="60" width="0.80" height="575" fill="#ffffff" opacity="0.09"/><rect x="879.18" y="60" width="0.80" height="575" fill="#5f8fc4" opacity="0.10"/><rect x="887.35" y="60" width="0.80" height="575" fill="#5f8fc4" opacity="0.06"/><rect x="888.98" y="60" width="0.80" height="575" fill="#5f8fc4" opacity="0.11"/>
<line x1="231.7" y1="597.27" x2="897" y2="597.27" stroke="#5c88b8" stroke-opacity="0.2" stroke-width="1.1"/>
<line x1="231.7" y1="560.14" x2="897" y2="560.14" stroke="#5c88b8" stroke-opacity="0.2" stroke-width="1.1"/>
<line x1="231.7" y1="523.01" x2="897" y2="523.01" stroke="#5c88b8" stroke-opacity="0.2" stroke-width="1.1"/>
<line x1="231.7" y1="485.88" x2="897" y2="485.88" stroke="#5c88b8" stroke-opacity="0.2" stroke-width="1.1"/>
<line x1="231.7" y1="448.75" x2="897" y2="448.75" stroke="#5c88b8" stroke-opacity="0.2" stroke-width="1.1"/>
<line x1="231.7" y1="411.62" x2="897" y2="411.62" stroke="#5c88b8" stroke-opacity="0.2" stroke-width="1.1"/>
<line x1="231.7" y1="374.49" x2="897" y2="374.49" stroke="#5c88b8" stroke-opacity="0.2" stroke-width="1.1"/>
<line x1="231.7" y1="337.36" x2="897" y2="337.36" stroke="#5c88b8" stroke-opacity="0.2" stroke-width="1.1"/>
<line x1="231.7" y1="300.23" x2="897" y2="300.23" stroke="#5c88b8" stroke-opacity="0.2" stroke-width="1.1"/>
<line x1="231.7" y1="263.10" x2="897" y2="263.10" stroke="#5c88b8" stroke-opacity="0.2" stroke-width="1.1"/>
<line x1="231.7" y1="225.97" x2="897" y2="225.97" stroke="#5c88b8" stroke-opacity="0.2" stroke-width="1.1"/>
<line x1="231.7" y1="188.84" x2="897" y2="188.84" stroke="#5c88b8" stroke-opacity="0.2" stroke-width="1.1"/>
<line x1="231.7" y1="151.71" x2="897" y2="151.71" stroke="#5c88b8" stroke-opacity="0.2" stroke-width="1.1"/>
<line x1="231.7" y1="114.58" x2="897" y2="114.58" stroke="#5c88b8" stroke-opacity="0.2" stroke-width="1.1"/>
<line x1="231.7" y1="77.45" x2="897" y2="77.45" stroke="#5c88b8" stroke-opacity="0.2" stroke-width="1.1"/>
</g>
<g fill="#8199b6">
<rect x="236.32" y="149.5" width="1.15" height="395.8"/>
<rect x="239.59" y="69.0" width="1.15" height="101.3"/>
<rect x="246.12" y="389.5" width="1.15" height="100.8"/>
<rect x="249.39" y="502.0" width="1.15" height="10.3"/>
<rect x="254.29" y="389.0" width="1.15" height="93.3"/>
<rect x="260.82" y="414.0" width="1.15" height="36.3"/>
<rect x="264.09" y="271.0" width="1.15" height="169.3"/>
<rect x="267.36" y="376.5" width="1.15" height="62.8"/>
<rect x="278.79" y="356.0" width="1.15" height="60.8"/>
<rect x="286.96" y="381.0" width="1.15" height="9.3"/>
<rect x="291.86" y="345.0" width="1.15" height="18.3"/>
<rect x="296.75" y="310.0" width="1.15" height="30.3"/>
<rect x="303.29" y="393.0" width="1.15" height="27.3"/>
<rect x="309.82" y="354.5" width="1.15" height="103.8"/>
<rect x="322.89" y="568.0" width="1.15" height="6.3"/>
<rect x="326.15" y="501.5" width="1.15" height="52.8"/>
<rect x="331.05" y="526.0" width="1.15" height="24.3"/>
<rect x="334.32" y="527.0" width="1.15" height="23.3"/>
<rect x="347.39" y="563.0" width="1.15" height="23.3"/>
<rect x="352.29" y="584.0" width="1.15" height="4.3"/>
<rect x="355.55" y="575.0" width="1.15" height="5.3"/>
<rect x="363.72" y="599.0" width="1.15" height="5.3"/>
<rect x="370.25" y="586.0" width="1.15" height="13.3"/>
<rect x="378.42" y="593.5" width="1.15" height="6.8"/>
<rect x="399.65" y="609.0" width="1.15" height="5.3"/>
<rect x="411.08" y="572.0" width="1.15" height="7.8"/>
<rect x="414.35" y="570.0" width="1.15" height="9.8"/>
<rect x="422.52" y="581.5" width="1.15" height="12.8"/>
<rect x="427.42" y="586.0" width="1.15" height="4.3"/>
<rect x="432.31" y="556.5" width="1.15" height="7.8"/>
<rect x="443.75" y="571.0" width="1.15" height="9.3"/>
<rect x="447.01" y="565.5" width="1.15" height="8.8"/>
<rect x="455.18" y="552.0" width="1.15" height="8.3"/>
<rect x="458.45" y="539.5" width="1.15" height="20.8"/>
<rect x="468.25" y="551.0" width="1.15" height="17.3"/>
<rect x="474.78" y="566.5" width="1.15" height="9.8"/>
<rect x="479.68" y="566.0" width="1.15" height="10.3"/>
<rect x="486.21" y="569.5" width="1.15" height="12.8"/>
<rect x="489.48" y="574.0" width="1.15" height="6.3"/>
<rect x="492.75" y="566.0" width="1.15" height="14.3"/>
<rect x="497.64" y="575.0" width="1.15" height="9.3"/>
<rect x="502.54" y="569.5" width="1.15" height="14.8"/>
<rect x="509.08" y="591.0" width="1.15" height="3.3"/>
<rect x="515.61" y="568.0" width="1.15" height="25.3"/>
<rect x="525.41" y="594.0" width="1.15" height="3.3"/>
<rect x="533.58" y="589.0" width="1.15" height="8.3"/>
<rect x="540.11" y="546.5" width="1.15" height="56.8"/>
<rect x="546.64" y="575.0" width="1.15" height="12.8"/>
<rect x="551.54" y="590.0" width="1.15" height="8.3"/>
<rect x="558.08" y="593.0" width="1.15" height="8.3"/>
<rect x="572.77" y="605.0" width="1.15" height="6.3"/>
<rect x="605.44" y="612.5" width="1.15" height="8.8"/>
<rect x="618.51" y="596.5" width="1.15" height="12.3"/>
<rect x="628.30" y="589.0" width="1.15" height="19.3"/>
<rect x="639.74" y="590.5" width="1.15" height="7.8"/>
<rect x="647.90" y="592.0" width="1.15" height="7.3"/>
<rect x="651.17" y="590.5" width="1.15" height="7.8"/>
<rect x="654.44" y="586.0" width="1.15" height="12.3"/>
<rect x="670.77" y="551.5" width="1.15" height="8.8"/>
<rect x="675.67" y="569.0" width="1.15" height="3.3"/>
<rect x="685.47" y="564.5" width="1.15" height="3.3"/>
<rect x="696.90" y="544.5" width="1.15" height="6.3"/>
<rect x="706.70" y="564.5" width="1.15" height="5.8"/>
<rect x="718.13" y="498.5" width="1.15" height="23.8"/>
<rect x="727.93" y="531.0" width="1.15" height="7.3"/>
<rect x="731.20" y="529.0" width="1.15" height="9.3"/>
<rect x="734.47" y="528.0" width="1.15" height="12.3"/>
<rect x="739.37" y="545.0" width="1.15" height="6.3"/>
<rect x="742.63" y="530.0" width="1.15" height="21.3"/>
<rect x="754.06" y="543.0" width="1.15" height="3.8"/>
<rect x="765.50" y="555.5" width="1.15" height="6.8"/>
<rect x="776.93" y="534.5" width="1.15" height="4.8"/>
<rect x="790.00" y="565.0" width="1.15" height="10.3"/>
<rect x="801.43" y="586.5" width="1.15" height="7.3"/>
<rect x="824.29" y="603.0" width="1.15" height="9.3"/>
<rect x="834.09" y="602.0" width="1.15" height="6.3"/>
<rect x="856.96" y="602.5" width="1.15" height="7.8"/>
<rect x="874.93" y="613.0" width="1.15" height="5.3"/>
<rect x="879.83" y="606.5" width="1.15" height="6.8"/>
<rect x="891.26" y="600.5" width="1.15" height="14.8"/>
</g>
<g stroke="#8fa3bd" stroke-width="1.1" fill="none">
<line x1="231.7" y1="69" x2="231.7" y2="641.5"/>
<line x1="231.2" y1="634.6" x2="895.6" y2="634.6" stroke="#7094bd" stroke-width="1.3"/>
<line x1="280.70" y1="634.6" x2="280.70" y2="641.5"/>
<line x1="329.69" y1="634.6" x2="329.69" y2="641.5"/>
<line x1="380.33" y1="634.6" x2="380.33" y2="641.5"/>
<line x1="429.32" y1="634.6" x2="429.32" y2="641.5"/>
<line x1="479.95" y1="634.6" x2="479.95" y2="641.5"/>
<line x1="530.58" y1="634.6" x2="530.58" y2="641.5"/>
<line x1="579.58" y1="634.6" x2="579.58" y2="641.5"/>
<line x1="630.21" y1="634.6" x2="630.21" y2="641.5"/>
<line x1="679.21" y1="634.6" x2="679.21" y2="641.5"/>
<line x1="729.84" y1="634.6" x2="729.84" y2="641.5"/>
<line x1="780.47" y1="634.6" x2="780.47" y2="641.5"/>
<line x1="826.20" y1="634.6" x2="826.20" y2="641.5"/>
<line x1="876.83" y1="634.6" x2="876.83" y2="641.5"/>
<line x1="894.80" y1="634.6" x2="894.80" y2="641.5"/>
</g>
<defs><clipPath id="pc"><rect x="231.2" y="60" width="666" height="575.1"/></clipPath></defs>
<g clip-path="url(#pc)"><g transform="scale(0.730,1)"><polyline points="317.81,634.4 329.45,634.4 330.41,286.3 331.37,286.3 333.29,375.0 334.66,405.0 335.34,418.0 337.95,407.5 338.77,421.0 339.18,440.0 339.73,466.7 342.47,480.0 345.21,499.5 346.99,490.0 347.95,480.0 349.73,470.0 351.37,471.0 353.42,474.7 355.21,473.0 358.90,456.7 360.96,442.0 362.60,441.0 364.38,438.0 367.12,420.0 369.18,412.0 371.23,409.8 373.01,414.0 375.34,428.0 378.08,442.0 380.14,440.0 382.60,437.3 384.93,440.0 387.26,441.3 390.41,436.0 392.74,430.0 395.48,424.7 398.22,423.3 400.96,406.7 402.74,398.0 404.79,395.0 406.85,387.0 408.22,384.0 410.27,387.0 413.70,400.0 417.40,413.3 420.14,414.0 421.92,426.0 424.66,428.5 426.71,432.0 428.77,442.0 431.51,465.0 434.25,487.0 436.99,510.0 439.04,530.0 441.78,548.0 444.52,558.5 447.26,558.0 451.37,561.0 454.79,556.0 457.53,548.0 460.27,540.0 462.33,541.0 464.38,553.0 467.12,563.0 470.55,573.0 474.66,582.0 478.08,584.0 482.19,582.0 489.04,581.0 492.47,584.0 497.26,589.5 501.37,591.5 505.48,595.0 509.59,597.5 515.07,598.5 519.18,598.0 523.29,599.5 527.40,599.5 531.51,601.5 536.99,606.0 542.47,611.5 547.95,614.0 552.05,614.0 556.16,611.0 560.27,607.0 564.38,602.0 568.49,593.0 572.60,589.0 577.40,587.5 580.82,589.0 583.56,591.5 586.30,591.0 589.04,587.0 590.41,582.5 593.15,580.0 598.63,578.5 602.74,577.0 606.85,578.0 610.96,578.5 613.70,576.0 616.44,573.5 620.55,570.5 624.66,567.0 627.40,564.5 630.14,564.0 632.88,565.0 635.62,566.0 638.36,566.0 641.10,568.0 643.84,571.0 646.58,573.0 650.68,572.5 654.79,574.0 658.90,575.5 663.01,576.0 667.12,578.0 671.23,579.0 675.34,579.0 679.45,578.5 683.56,579.5 687.67,580.5 691.78,582.5 695.89,585.0 698.63,588.0 702.74,591.0 705.48,592.0 709.59,590.0 712.33,589.5 716.44,590.5 720.55,591.5 724.66,594.0 728.77,595.0 732.88,594.5 736.99,595.5 741.10,594.0 743.84,595.5 747.95,598.0 750.68,595.5 754.79,595.0 758.90,596.0 761.64,595.5 765.75,597.0 768.49,598.5 771.23,602.0 773.97,604.5 778.08,605.5 780.82,608.0 783.56,609.0 787.67,609.0 790.41,610.0 793.15,612.0 797.26,614.0 801.37,616.5 805.48,619.0 809.59,619.0 813.70,619.5 819.18,618.0 823.29,619.0 827.40,619.5 830.14,618.0 834.25,619.5 838.36,619.5 842.47,618.0 846.58,615.5 850.68,614.0 854.11,612.0 857.53,613.0 861.64,612.5 864.38,611.0 867.12,608.5 869.86,604.0 872.60,600.0 875.34,598.5 879.45,598.0 883.56,597.0 887.67,597.0 891.78,596.0 894.52,594.5 897.26,593.5 901.37,593.0 905.48,593.5 909.59,594.5 912.33,596.0 915.07,595.0 917.81,593.0 920.55,590.0 923.29,587.0 926.03,582.0 928.77,576.5 931.51,572.5 934.25,571.0 936.99,572.0 939.73,572.5 942.47,571.0 945.21,567.5 947.95,566.0 950.68,564.5 953.42,561.0 956.16,559.0 958.90,557.5 961.64,555.5 964.38,554.5 967.12,557.0 969.86,560.0 972.60,563.0 975.34,566.0 978.08,568.5 980.14,569.0 982.19,567.0 984.93,563.0 987.67,558.0 990.41,552.0 993.15,544.0 995.21,538.0 997.26,536.0 1000.00,537.0 1002.74,537.5 1005.48,535.5 1007.53,534.0 1009.59,536.0 1012.33,540.0 1015.07,542.5 1017.81,543.5 1020.55,545.0 1023.29,549.0 1026.03,551.5 1028.77,553.0 1031.51,553.5 1034.25,554.0 1036.99,555.0 1039.73,558.0 1042.47,562.0 1045.21,567.0 1047.95,570.0 1050.68,572.0 1054.79,575.0 1058.90,578.0 1063.01,579.0 1066.44,577.5 1069.86,578.5 1073.29,580.0 1076.71,579.0 1079.45,580.0 1082.19,582.5 1084.93,585.0 1087.67,588.0 1090.41,591.5 1093.15,594.5 1095.89,596.0 1100.00,597.5 1104.11,600.0 1108.22,602.5 1112.33,605.0 1116.44,606.5 1120.55,608.0 1124.66,609.0 1128.77,610.0 1132.19,612.0 1135.62,614.5 1139.73,617.5 1142.47,618.5 1146.58,618.0 1150.68,619.0 1153.42,619.5 1157.53,618.0 1161.64,618.5 1165.75,619.5 1169.86,619.0 1173.97,618.5 1178.08,618.0 1182.19,616.5 1186.30,616.0 1190.41,616.5 1194.52,616.5 1198.63,616.0 1202.74,616.5 1206.85,616.5 1210.96,616.0 1215.07,616.5 1219.18,616.0 1223.70,616.0" fill="none" stroke="#db2f48" stroke-width="3.9" stroke-linejoin="round" stroke-linecap="round"/></g></g>
<text class="ax" text-anchor="middle" transform="translate(280.70,657) scale(0.730,1)">Apr</text>
<text class="ax" text-anchor="middle" transform="translate(329.69,657) scale(0.730,1)">May</text>
<text class="ax" text-anchor="middle" transform="translate(380.33,657) scale(0.730,1)">Jun</text>
<text class="ax" text-anchor="middle" transform="translate(429.32,657) scale(0.730,1)">Jul</text>
<text class="ax" text-anchor="middle" transform="translate(479.95,657) scale(0.730,1)">Aug</text>
<text class="ax" text-anchor="middle" transform="translate(530.58,657) scale(0.730,1)">Sep</text>
<text class="ax" text-anchor="middle" transform="translate(579.58,657) scale(0.730,1)">Oct</text>
<text class="ax" text-anchor="middle" transform="translate(630.21,657) scale(0.730,1)">Nov</text>
<text class="ax" text-anchor="middle" transform="translate(679.21,657) scale(0.730,1)">Dec</text>
<text class="ax" text-anchor="middle" transform="translate(729.84,657) scale(0.730,1)">Jan 21</text>
<text class="ax" text-anchor="middle" transform="translate(780.47,657) scale(0.730,1)">Feb</text>
<text class="ax" text-anchor="middle" transform="translate(826.20,657) scale(0.730,1)">Mar</text>
<text class="ax" text-anchor="middle" transform="translate(876.83,657) scale(0.730,1)">Apr</text>
<text class="ax" text-anchor="end" transform="translate(228.3,640.50) scale(0.730,1)">0</text>
<text class="ax" text-anchor="end" transform="translate(228.3,603.37) scale(0.730,1)">2</text>
<text class="ax" text-anchor="end" transform="translate(228.3,566.24) scale(0.730,1)">4</text>
<text class="ax" text-anchor="end" transform="translate(228.3,529.11) scale(0.730,1)">6</text>
<text class="ax" text-anchor="end" transform="translate(228.3,491.98) scale(0.730,1)">8</text>
<text class="ax" text-anchor="end" transform="translate(228.3,454.85) scale(0.730,1)">10</text>
<text class="ax" text-anchor="end" transform="translate(228.3,417.72) scale(0.730,1)">12</text>
<text class="ax" text-anchor="end" transform="translate(228.3,380.59) scale(0.730,1)">14</text>
<text class="ax" text-anchor="end" transform="translate(228.3,343.46) scale(0.730,1)">16</text>
<text class="ax" text-anchor="end" transform="translate(228.3,306.33) scale(0.730,1)">18</text>
<text class="ax" text-anchor="end" transform="translate(228.3,269.20) scale(0.730,1)">20</text>
<text class="ax" text-anchor="end" transform="translate(228.3,232.07) scale(0.730,1)">22</text>
<text class="ax" text-anchor="end" transform="translate(228.3,194.94) scale(0.730,1)">24</text>
<text class="ax" text-anchor="end" transform="translate(228.3,157.81) scale(0.730,1)">26</text>
<text class="ax" text-anchor="end" transform="translate(228.3,120.68) scale(0.730,1)">28</text>
<text class="ax" text-anchor="end" transform="translate(228.3,83.55) scale(0.730,1)">30</text>
<ellipse cx="436.7" cy="45.5" rx="8" ry="11" fill="#5b96cc"/>
<text class="lg" x="453.8" y="51.0" textLength="99.6" lengthAdjust="spacingAndGlyphs">Test Positivity Rate</text>
<ellipse cx="590.7" cy="45.5" rx="8" ry="11" fill="#e6324b"/>
<text class="lg" x="607.8" y="51.0" textLength="74.2" lengthAdjust="spacingAndGlyphs">7 Day Average</text>
</svg></body></html>
